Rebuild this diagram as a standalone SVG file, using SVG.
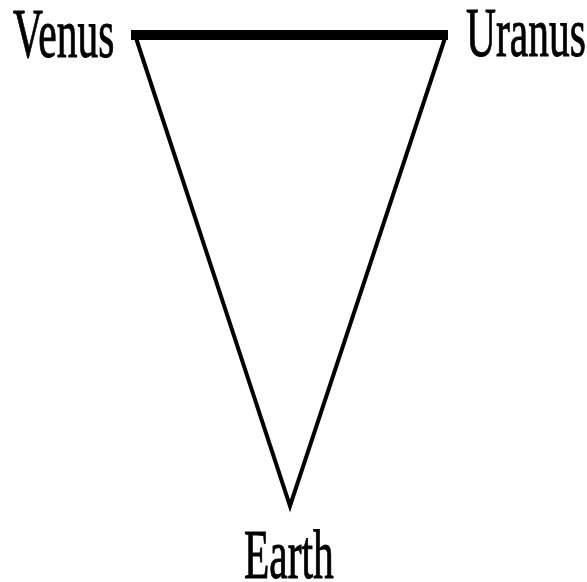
<svg xmlns="http://www.w3.org/2000/svg" width="587" height="582" viewBox="0 0 587 582">
<style>
.lbl{font-family:"Liberation Serif","Times New Roman",serif;font-size:41.5px;fill:#000;stroke:#000;stroke-width:0.6}
.edge{fill:none;stroke:#000;stroke-linejoin:miter;stroke-linecap:butt}
</style>
<rect width="587" height="582" fill="#fff"/>
<g id="connectors">
<line class="edge" x1="131" y1="35" x2="448" y2="35" stroke-width="10"/>
<polyline class="edge" points="136,38 290,506 445,38" stroke-width="4" stroke-miterlimit="20"/>
</g>
<g id="venus"><text class="lbl" transform="translate(13,57) scale(1,1.66)">Venus</text></g>
<g id="uranus"><text class="lbl" transform="translate(466,56) scale(1,1.66)">Uranus</text></g>
<g id="earth"><text class="lbl" transform="translate(244,578) scale(1,1.66)">Earth</text></g>
</svg>
